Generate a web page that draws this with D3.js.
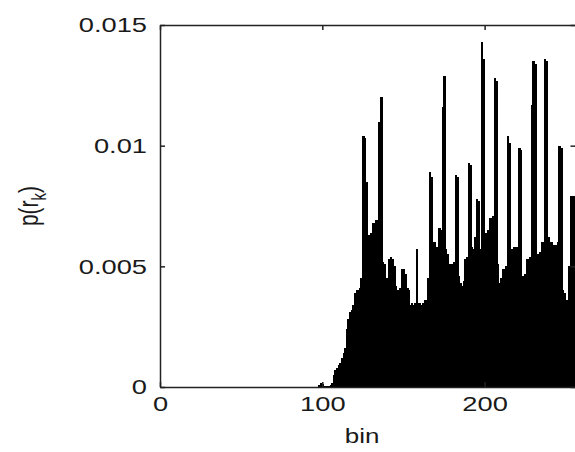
<!DOCTYPE html>
<html>
<head>
<meta charset="utf-8">
<script src="https://cdn.jsdelivr.net/npm/d3@7"></script>
<style>
  body { margin: 0; background: #fff; }
  text { font-family: "Liberation Sans", Arial, sans-serif; fill: #1a1a1a; }
</style>
</head>
<body>
<div id="chart"></div>
<script>
// histogram values, one per bin, starting at firstBin (bins before it are empty)
var firstBin = 97;
var binValues = [
  0, 0.0001, 0.00015, 0.00012, 0.00004, 0.00003, 0.00004, 0.00005, 0.00008, 0.00015,
  0.0005, 0.0007, 0.0008, 0.0009, 0.0010, 0.0012, 0.0014, 0.0016, 0.0024, 0.0028,
  0.0031, 0.0032, 0.0034, 0.0039, 0.0040, 0.0040, 0.0041, 0.0045, 0.0104, 0.0103,
  0.0085, 0.0063, 0.0062, 0.0064, 0.0068, 0.0068, 0.0069, 0.0068, 0.0110, 0.0120,
  0.0052, 0.0051, 0.0044, 0.0045, 0.0053, 0.0054, 0.0053, 0.0050, 0.0042, 0.0040,
  0.0038, 0.0041, 0.0049, 0.0049, 0.0047, 0.0041, 0.0040, 0.0034, 0.0035, 0.0034,
  0.0035, 0.0057, 0.0035, 0.0035, 0.0034, 0.0035, 0.0036, 0.0036, 0.0045, 0.0089,
  0.0087, 0.0060, 0.0060, 0.0058, 0.0056, 0.0066, 0.0065, 0.0116, 0.0129, 0.0057,
  0.0055, 0.0051, 0.0050, 0.0051, 0.0052, 0.0088, 0.0087, 0.0046, 0.0043, 0.0042,
  0.0044, 0.0053, 0.0054, 0.0093, 0.0092, 0.0058, 0.0057, 0.0062, 0.0078, 0.0077,
  0.0057, 0.0143, 0.0136, 0.0064, 0.0064, 0.0065, 0.0070, 0.0070, 0.0071, 0.0128,
  0.0127, 0.0051, 0.0043, 0.0045, 0.0049, 0.0049, 0.0050, 0.0104, 0.0101, 0.0057,
  0.0057, 0.0058, 0.0057, 0.0058, 0.0099, 0.0098, 0.0046, 0.0046, 0.0047, 0.0053,
  0.0053, 0.0054, 0.0117, 0.0135, 0.0134, 0.0055, 0.0055, 0.0056, 0.0060, 0.0060,
  0.0136, 0.0135, 0.0062, 0.0060, 0.0060, 0.0059, 0.0058, 0.0059, 0.0060, 0.0100,
  0.0099, 0.0040, 0.0039, 0.0036, 0.0033, 0.0050, 0.0079, 0.0079, 0.0079
];
var yTicks = [0, 0.005, 0.01, 0.015];
var xTicks = [0, 100, 200];
var xLabel = "bin";

//SVG size
var svgWidth = 575;
var svgHeight = 452;

var margin = { top: 25, right: 0, bottom: 65, left: 160 };
// plot box runs slightly past the right edge of the window
var width = 415.5;
var height = svgHeight - margin.top - margin.bottom;

// the lettering in the picture is stretched sideways
var stretch = 1.3;

var svg = d3.select("#chart")
  .append("svg")
  .attr("width", svgWidth)
  .attr("height", svgHeight);

var chartGroup = svg.append("g")
  .attr("transform", `translate(${margin.left}, ${margin.top})`);

var bins = binValues.map(function(v, i) {
  return { bin: firstBin + i, value: v };
});

var xScale = d3.scaleLinear().domain([0, 256]).range([0, width]);
var yScale = d3.scaleLinear().domain([0, 0.015]).range([height, 0]);

var barW = xScale(1) - xScale(0);

// bars, drawn crisp and overlapping so no seams show between them
chartGroup.append("g")
  .attr("shape-rendering", "crispEdges")
  .selectAll("rect.bar")
  .data(bins)
  .enter()
  .append("rect")
  .attr("class", "bar")
  .attr("x", d => xScale(d.bin - 0.5))
  .attr("width", barW + 1)
  .attr("y", d => yScale(d.value))
  .attr("height", d => height - yScale(d.value))
  .attr("fill", "#000");

// axes, ticks point inward like matlab
var leftAxis = d3.axisLeft(yScale).tickValues(yTicks).tickSize(-5).tickSizeOuter(0)
  .tickPadding(13 / stretch).tickFormat(d => String(d));
var rightAxis = d3.axisRight(yScale).tickValues(yTicks).tickSize(-5).tickSizeOuter(0).tickFormat("");
var bottomAxis = d3.axisBottom(xScale).tickValues(xTicks).tickSize(-5).tickSizeOuter(0).tickPadding(9);
var topAxis = d3.axisTop(xScale).tickValues(xTicks).tickSize(-5).tickSizeOuter(0).tickFormat("");

var gl = chartGroup.append("g").call(leftAxis);
var gr = chartGroup.append("g").attr("transform", `translate(${width},0)`).call(rightAxis);
var gb = chartGroup.append("g").attr("transform", `translate(0,${height})`).call(bottomAxis);
var gt = chartGroup.append("g").call(topAxis);

[gl, gr, gb, gt].forEach(function(g) {
  g.selectAll("path, line").attr("stroke", "#222").attr("stroke-width", 1.5);
  g.selectAll("text")
    .attr("font-size", 21)
    .attr("font-family", null)
    .attr("fill", null)
    .attr("transform", `scale(${stretch},1)`);
});

// x label
chartGroup.append("text")
  .attr("transform", `translate(${xScale(124.5)},${height + 56}) scale(${stretch},1)`)
  .attr("text-anchor", "middle")
  .attr("font-size", 20)
  .text(xLabel);

// y label p(r_k)
var yl = svg.append("text")
  .attr("transform", `translate(38,206) scale(${stretch},1) rotate(-90)`)
  .attr("text-anchor", "middle")
  .attr("font-size", 21);
yl.append("tspan").text("p(r");
yl.append("tspan").attr("dy", 6).attr("font-size", 15).text("k");
yl.append("tspan").attr("dy", -6).text(")");
</script>
</body>
</html>
